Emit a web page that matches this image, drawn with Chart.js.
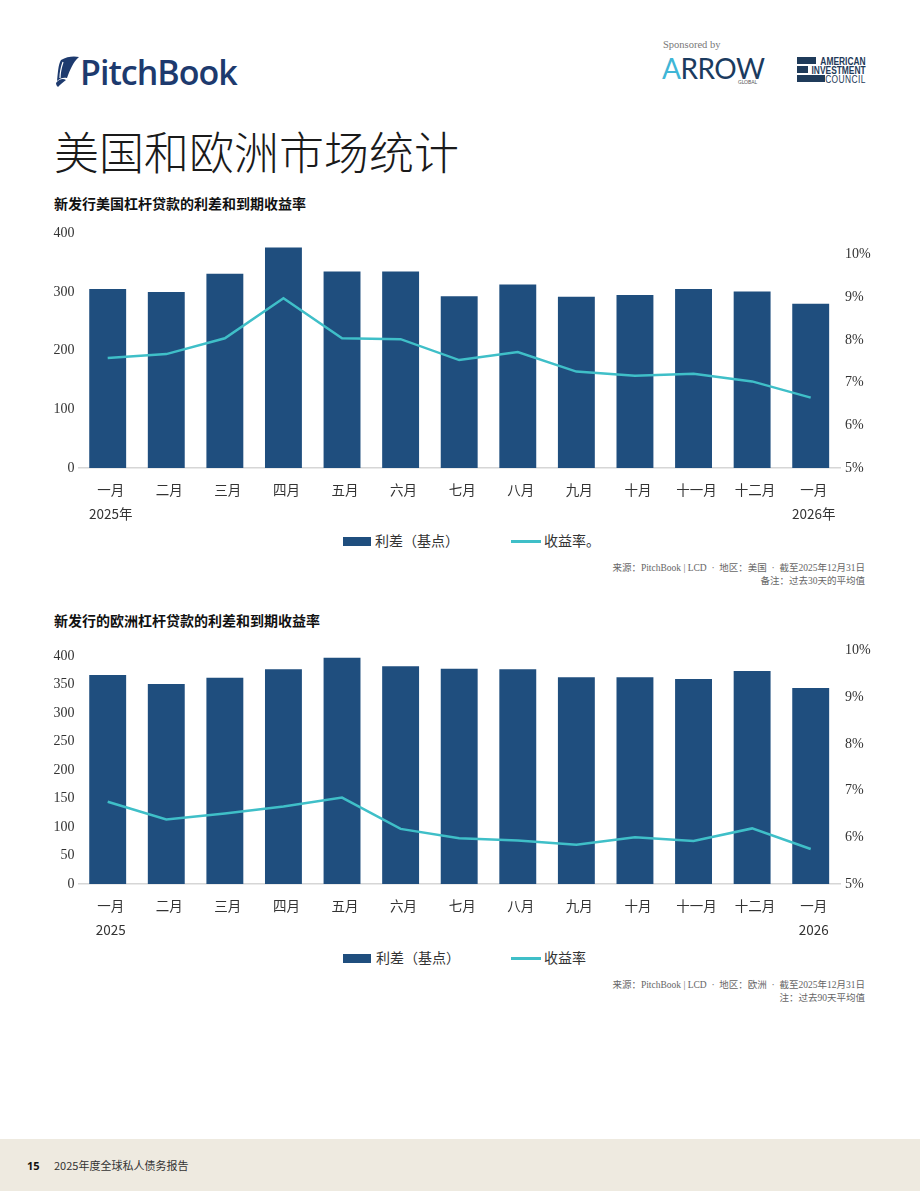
<!DOCTYPE html>
<html>
<head>
<meta charset="utf-8">
<script src="https://cdn.jsdelivr.net/npm/chart.js@4.4.1/dist/chart.umd.min.js"></script>
<style>
  body { margin: 0; width: 920px; height: 1191px; position: relative; background: #fff; overflow: hidden;
         font-family: "Noto Sans CJK SC", sans-serif; color: #222; }
  .abs { position: absolute; }
  .title { left: 54px; top: 118px; font-size: 45px; font-weight: 300; color: #1a1a1a; white-space: nowrap; }
  .ctitle { left: 54px; font-size: 14px; font-weight: 700; color: #111; white-space: nowrap; }
  .chartbox { left: 40px; width: 850px; height: 310px; }
  .legend { font-size: 14px; color: #333; white-space: nowrap; }
  .sw-bar { width: 28px; height: 9px; background: #1f4e7e; }
  .sw-line { width: 30px; height: 3px; background: #3fbfc8; }
  .note { right: 55px; font-family: "Liberation Serif", "Noto Sans CJK SC", serif; font-size: 9.5px; color: #666;
          text-align: right; line-height: 13px; white-space: nowrap; }
  .footer { left: 0; top: 1139px; width: 920px; height: 52px; background: #eeeae0; }
  .aic { font-family: 'Liberation Sans', sans-serif; font-size: 10.5px; line-height: 9px; color: #1f3b5a;
         transform-origin: right top; transform: scaleX(0.8); white-space: nowrap; text-align: right; }
</style>
</head>
<body>

<!-- header logos -->
<svg class="abs" style="left:53px;top:56px" width="26" height="31" viewBox="0 0 26 31">
  <path d="M8 4 C14 0 22 0 26 1 C20 6 17 14 14 22 C11 21 7 22 4 25 C5 17 5 9 8 4Z" fill="#1d3a6e"/>
  <path d="M3 27 C6 23 10 22 13 24 C10 26 7 29 5 31 C4 30 3 29 3 27Z" fill="#1d3a6e"/>
  <path d="M10 6 C8 12 7 18 7 22" stroke="#fff" stroke-width="1.2" fill="none"/>
</svg>
<div class="abs" style="left:80px;top:49px;font-family:'Open Sans',sans-serif;font-weight:600;font-size:34px;color:#1d3a6e;letter-spacing:-1px;">PitchBook</div>

<div class="abs" style="left:663px;top:39px;font-family:'Liberation Serif',serif;font-size:10.5px;color:#777;">Sponsored by</div>
<div class="abs" style="left:662px;top:51px;font-family:'Lato',sans-serif;font-weight:400;font-size:28px;letter-spacing:-0.5px;color:#1b3b5f;"><span style="color:#3fb6d6">A</span>RROW</div>
<div class="abs" style="left:738px;top:79px;font-family:'Lato',sans-serif;font-size:5px;color:#555;">GLOBAL</div>

<div class="abs" style="left:797px;top:57px;width:19px;height:7px;background:#1f3b5a"></div>
<div class="abs" style="left:797px;top:66px;width:11px;height:7px;background:#1f3b5a"></div>
<div class="abs" style="left:797px;top:75px;width:28px;height:7px;background:#1f3b5a"></div>
<div class="abs aic" style="right:54px;top:57px;font-weight:700;">AMERICAN</div>
<div class="abs aic" style="right:54px;top:66px;font-weight:700;">INVESTMENT</div>
<div class="abs aic" style="right:54px;top:75px;font-weight:400;letter-spacing:0.5px;">COUNCIL</div>

<div class="abs title">美国和欧洲市场统计</div>

<!-- chart 1 -->
<div class="abs ctitle" style="top:193px;">新发行美国杠杆贷款的利差和到期收益率</div>
<div class="abs chartbox" style="top:220px;"><canvas id="usChart"></canvas></div>
<div class="abs sw-bar" style="left:343px;top:537px;"></div>
<div class="abs legend" style="left:375px;top:530px;">利差（基点）</div>
<div class="abs sw-line" style="left:511px;top:540px;"></div>
<div class="abs legend" style="left:544px;top:530px;">收益率。</div>
<div class="abs note" style="top:562px;">来源：PitchBook | LCD &nbsp;·&nbsp; 地区：美国 &nbsp;·&nbsp; 截至2025年12月31日<br>备注：过去30天的平均值</div>

<!-- chart 2 -->
<div class="abs ctitle" style="top:610px;">新发行的欧洲杠杆贷款的利差和到期收益率</div>
<div class="abs chartbox" style="top:637px;"><canvas id="euChart"></canvas></div>
<div class="abs sw-bar" style="left:343px;top:954px;"></div>
<div class="abs legend" style="left:376px;top:947px;">利差（基点）</div>
<div class="abs sw-line" style="left:511px;top:957px;"></div>
<div class="abs legend" style="left:544px;top:947px;">收益率</div>
<div class="abs note" style="top:979px;">来源：PitchBook | LCD &nbsp;·&nbsp; 地区：欧洲 &nbsp;·&nbsp; 截至2025年12月31日<br>注：过去90天平均值</div>

<!-- footer -->
<div class="abs footer"></div>
<div class="abs" style="left:27px;top:1158px;font-family:'Open Sans',sans-serif;font-weight:700;font-size:11px;color:#111;">15</div>
<div class="abs" style="left:54px;top:1157px;font-size:11px;color:#333;">2025年度全球私人债务报告</div>

<script>
const months = ['一月', '二月', '三月', '四月', '五月', '六月', '七月', '八月', '九月', '十月', '十一月', '十二月', '一月'];

const usYears = ['2025年', '2026年'];
const usSpread = [305, 300, 331, 376, 335, 335, 293, 313, 292, 295, 305, 301, 280];
const usYield = [7.58, 7.67, 8.04, 8.98, 8.04, 8.02, 7.53, 7.72, 7.26, 7.16, 7.21, 7.03, 6.65];
const usSpreadTicks = [0, 100, 200, 300, 400];
const usYieldTicks = [5, 6, 7, 8, 9, 10];

const euYears = ['2025', '2026'];
const euSpread = [367, 351, 362, 377, 397, 382, 378, 377, 363, 363, 360, 374, 344];
const euYield = [6.76, 6.38, 6.51, 6.66, 6.85, 6.18, 5.98, 5.93, 5.84, 6.00, 5.92, 6.19, 5.75];
const euSpreadTicks = [0, 50, 100, 150, 200, 250, 300, 350, 400];
const euYieldTicks = [5, 6, 7, 8, 9, 10];

const BAR_COLOR = '#1f4e7e';
const LINE_COLOR = '#3fbfc8';
const NUM_FONT = { family: "'Liberation Serif', 'Noto Sans CJK SC', serif", size: 14 };

function buildLabels(years) {
  return months.map((m, i) => {
    if (i === 0) return [m, years[0]];
    if (i === months.length - 1) return [m, years[1]];
    return m;
  });
}

function createComboChart(canvasId, labels, spread, yields, opts) {
  const ctx = document.getElementById(canvasId);
  if (!ctx) return;

  new Chart(ctx.getContext('2d'), {
    data: {
      labels: labels,
      datasets: [
        {
          type: 'line',
          label: '收益率',
          data: yields,
          yAxisID: 'y1',
          borderColor: LINE_COLOR,
          borderWidth: 2.5,
          pointRadius: 0,
          tension: 0,
          fill: false,
          order: 0,
        },
        {
          type: 'bar',
          label: '利差（基点）',
          data: spread,
          yAxisID: 'y',
          backgroundColor: BAR_COLOR,
          borderWidth: 0,
          barPercentage: 0.63,
          categoryPercentage: 1,
          order: 1,
        },
      ],
    },
    options: {
      responsive: true,
      maintainAspectRatio: false,
      animation: false,
      layout: { padding: { top: 8, left: 0, right: 0, bottom: 0 } },
      plugins: {
        legend: { display: false },
        tooltip: { enabled: false },
      },
      scales: {
        x: {
          grid: { display: false, drawTicks: false, tickLength: 0 },
          border: { color: '#d6d6d6', width: 1.5 },
          ticks: {
            padding: 10,
            labelOffset: 3,
            color: '#333',
            font: { family: "'Noto Sans CJK SC', sans-serif", size: 13.5, lineHeight: '24px' },
            maxRotation: 0,
            autoSkip: false,
          },
          afterFit: (scale) => { scale.height = opts.xHeight; },
        },
        y: {
          position: 'left',
          min: 0,
          max: opts.spreadMax,
          grid: { display: false, drawTicks: false, tickLength: 0 },
          border: { display: false },
          ticks: { padding: 4, color: '#333', font: NUM_FONT },
          afterBuildTicks: (scale) => {
            scale.ticks = opts.spreadTicks.map((v) => ({ value: v }));
          },
          afterFit: (scale) => { scale.width = 38.4; },
        },
        y1: {
          position: 'right',
          min: 5,
          max: opts.yieldMax,
          grid: { display: false, drawTicks: false, tickLength: 0 },
          border: { display: false },
          ticks: {
            padding: 5,
            color: '#333',
            font: NUM_FONT,
            callback: (v) => v + '%',
          },
          afterBuildTicks: (scale) => {
            scale.ticks = opts.yieldTicks.map((v) => ({ value: v }));
          },
          afterFit: (scale) => { scale.width = 50; },
        },
      },
    },
  });
}

document.addEventListener('DOMContentLoaded', function() {
  createComboChart('usChart', buildLabels(usYears), usSpread, usYield, {
    spreadMax: 400, spreadTicks: usSpreadTicks, yieldMax: 10.5, yieldTicks: usYieldTicks, xHeight: 62,
  });
  createComboChart('euChart', buildLabels(euYears), euSpread, euYield, {
    spreadMax: 410, spreadTicks: euSpreadTicks, yieldMax: 10, yieldTicks: euYieldTicks, xHeight: 63,
  });
});
</script>
</body>
</html>
